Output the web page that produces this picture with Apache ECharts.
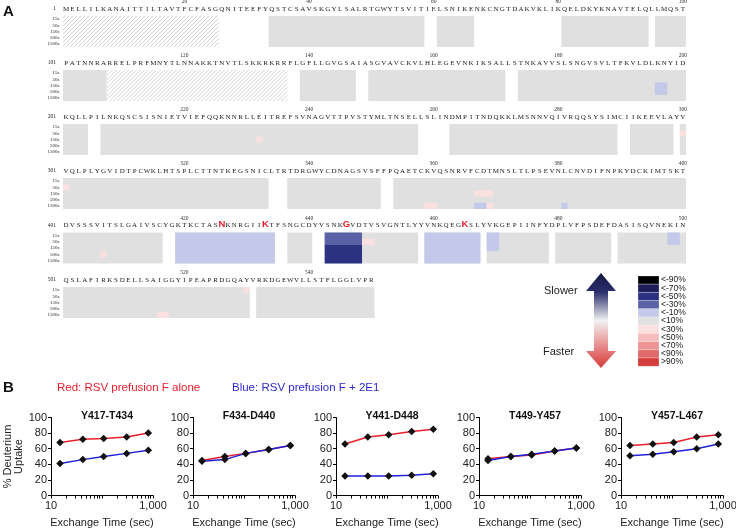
<!DOCTYPE html>
<html><head><meta charset="utf-8">
<script src="https://cdn.jsdelivr.net/npm/echarts@6/dist/echarts.min.js"></script>
<style>html,body{margin:0;padding:0;background:#fff}#c{width:736px;height:528px}</style>
</head><body><div id="c"></div>
<script>
// ---------------- DATA ----------------
const sequence =
  "MELLILKANAITTILTAVTFCFASGQNITEEFYQSTCSAVSKGYLSALRTGWYTSVITIELSNIKENKCNGTDAKVKLIKQELDKYKNAVTELQLLMQST" +
  "PATNNRARRELPRFMNYTLNNAKKTNVTLSKKRKRRFLGFLLGVGSAIASGVAVCKVLHLEGEVNKIKSALLSTNKAVVSLSNGVSVLTFKVLDLKNYID" +
  "KQLLPILNKQSCSISNIETVIEFQQKNNRLLEITREFSVNAGVTTPVSTYMLTNSELLSLINDMPITNDQKKLMSNNVQIVRQQSYSIMCIIKEEVLAYV" +
  "VQLPLYGVIDTPCWKLHTSPLCTTNTKEGSNICLTRTDRGWYCDNAGSVSFFPQAETCKVQSNRVFCDTMNSLTLPSEVNLCNVDIFNPKYDCKIMTSKT" +
  "DVSSSVITSLGAIVSCYGKTKCTASNKNRGIIKTFSNGCDYVSNKGVDTVSVGNTLYYVNKQEGKSLYVKGEPIINFYDPLVFPSDEFDASISQVNEKIN" +
  "QSLAFIRKSDELLSAIGGYIPEAPRDGQAYVRKDGEWVLLSTFLGGLVPR";
const timeLabels = ['15s', '50s', '150s', '500s', '1500s'];
const rowStarts = [1, 101, 201, 301, 401, 501];
const rowLengths = [100, 100, 100, 100, 100, 50];
const redResidues = [426, 433, 446, 465];
// residue ranges [start, end]
const hatchedSegments = [[1, 25], [108, 136]];
const coveredSegments = [
  [34, 58], [61, 66], [81, 94], [96, 100],
  [101, 107], [139, 147], [150, 171], [174, 200],
  [201, 204], [207, 257], [263, 289], [292, 298], [300, 300],
  [301, 333], [337, 351], [354, 400],
  [401, 416], [419, 434], [437, 440], [443, 457], [459, 467], [469, 478], [480, 488], [490, 500],
  [501, 530], [532, 550]
];
// [residueStart, residueEnd, timeStart, timeEnd, levelIndex]
const changedBlocks = [
  [196, 197, 2, 3, 4],
  [232, 232, 2, 2, 6],
  [300, 300, 1, 1, 6],
  [301, 301, 1, 1, 6],
  [367, 369, 2, 2, 6],
  [367, 368, 4, 4, 4],
  [369, 369, 4, 4, 6],
  [359, 360, 4, 4, 6],
  [381, 381, 4, 4, 4],
  [407, 407, 3, 3, 6],
  [419, 434, 0, 4, 4],
  [443, 448, 0, 1, 3],
  [443, 448, 2, 4, 2],
  [449, 450, 1, 1, 6],
  [459, 467, 0, 4, 4],
  [469, 470, 0, 2, 4],
  [498, 499, 0, 1, 4],
  [530, 530, 0, 0, 6],
  [516, 517, 4, 4, 6]
];
const levelLabels = ['<-90%', '<-70%', '<-50%', '<-30%', '<-10%', '<10%', '<30%', '<50%', '<70%', '<90%', '>90%'];
const levelColors = ['#000000', '#1c1d5a', '#2b3282', '#5a62a6', '#c3c9e8', '#e0e0e0', '#fbe0e0', '#f5bcbc', '#ec9494', '#e06a6a', '#d43c3c'];

const peptides = ['Y417-T434', 'F434-D440', 'Y441-D448', 'T449-Y457', 'Y457-L467'];
const exchangeTimes = [15, 42, 108, 305, 810];
const uptakeAlone = [
  [68, 72, 73, 75, 80],
  [45, 50, 54, 59, 64],
  [66, 75, 78, 82, 85],
  [47, 50, 52, 57, 61],
  [64, 66, 68, 75, 78]
];
const uptake2E1 = [
  [41, 46, 50, 54, 58],
  [44, 46, 54, 59, 64],
  [25, 25, 25, 26, 28],
  [45, 50, 53, 57, 61],
  [51, 53, 56, 60, 66]
];
const xTickValues = [10, 20, 30, 40, 50, 60, 70, 80, 90, 100, 200, 300, 400, 500, 600, 700, 800, 900, 1000];
const xLabelValues = [10, 1000];

// ---------------- CHART ----------------
const chart = echarts.init(document.getElementById('c'), null, {renderer: 'canvas', width: 736, height: 528});
const grids = [], xAxes = [], yAxes = [], series = [], titles = [], graphics = [];
const heatLeft = 63, cellW = 6.23, rowH = 31;
const rowTops = [16, 70, 124, 178, 232.5, 287];
const redSet = new Set(redResidues);

function renderCell(params, api) {
  const x0 = api.value(0), x1 = api.value(1), y0 = api.value(2), y1 = api.value(3);
  const kind = api.value(4), lvl = api.value(5);
  const p0 = api.coord([x0, y0]), p1 = api.coord([x1, y1]);
  const sz = api.size([1, 1]);
  const left = Math.min(p0[0], p1[0]) - sz[0] / 2, right = Math.max(p0[0], p1[0]) + sz[0] / 2;
  const top = Math.min(p0[1], p1[1]) - sz[1] / 2, bottom = Math.max(p0[1], p1[1]) + sz[1] / 2;
  if (kind === 1) {
    const children = [];
    const step = 4;
    for (let k = left + top + step / 2; k < right + bottom; k += step) {
      const ys = Math.min(bottom, k - left), xs = k - ys;
      const ye = Math.max(top, k - right), xe = k - ye;
      if (xs <= right && ye <= ys) {
        children.push({type: 'line', shape: {x1: xs, y1: ys, x2: xe, y2: ye},
          style: {stroke: '#c8c8c8', lineWidth: 0.8}});
      }
    }
    return {type: 'group', children};
  }
  return {type: 'rect', shape: {x: left, y: top, width: right - left, height: bottom - top},
    style: {fill: levelColors[lvl]}};
}

rowStarts.forEach((start, r) => {
  const n = rowLengths[r];
  const end = start + n - 1;
  grids.push({left: heatLeft, top: rowTops[r], width: n * cellW, height: rowH, outerBoundsMode: 'none', containLabel: false});
  const cats = [];
  for (let i = 0; i < n; i++) cats.push(String(start + i));
  xAxes.push({
    gridIndex: r, type: 'category', data: cats, position: 'top',
    axisLine: {show: false}, axisTick: {show: false}, splitLine: {show: false},
    axisLabel: {
      interval: 0, margin: 3.5, fontFamily: 'Liberation Serif', fontSize: 7, color: '#1a1a1a',
      formatter: (v) => {
        const res = +v; const ch = sequence[res - 1];
        return redSet.has(res) ? '{r|' + ch + '}' : ch;
      },
      rich: {r: {color: '#e8202a', fontWeight: 'bold', fontSize: 9.5, fontFamily: 'Liberation Sans'}}
    }
  });
  xAxes.push({
    gridIndex: r, type: 'category', data: cats, position: 'top', offset: 8,
    axisLine: {show: false}, axisTick: {show: false}, splitLine: {show: false},
    axisLabel: {
      interval: (idx, v) => (+v) % 20 === 0, margin: 3,
      fontFamily: 'Liberation Serif', fontSize: 5.5, color: '#333'
    }
  });
  yAxes.push({
    gridIndex: r, type: 'category', data: timeLabels, inverse: true,
    axisLine: {show: false}, axisTick: {show: false}, splitLine: {show: false},
    axisLabel: {interval: 0, margin: 3.5, fontFamily: 'Liberation Serif', fontSize: 5, color: '#222'}
  });
  const data = [];
  function addSeg(a, b, t0, t1, kind, lvl) {
    const s = Math.max(a, start), e = Math.min(b, end);
    if (s > e) return;
    data.push([s - start, e - start, t0, t1, kind, lvl]);
  }
  hatchedSegments.forEach(([a, b]) => addSeg(a, b, 0, 4, 1, 5));
  coveredSegments.forEach(([a, b]) => addSeg(a, b, 0, 4, 0, 5));
  changedBlocks.forEach(([a, b, t0, t1, l]) => addSeg(a, b, t0, t1, 2, l));
  series.push({
    type: 'custom', xAxisIndex: 2 * r, yAxisIndex: r, renderItem: renderCell,
    encode: {x: [0, 1], y: [2, 3]}, data, silent: true, animation: false
  });
  graphics.push({
    type: 'text', x: 56, y: rowTops[r] - 7,
    style: {text: String(start), align: 'right', textAlign: 'right', verticalAlign: 'middle', textVerticalAlign: 'middle',
      fontSize: 5.5, fontFamily: 'Liberation Serif', fill: '#222'}
  });
});

const chartLefts = [51, 193, 336, 479, 621];
const chartW = 102, chartTop = 417.5, chartH = 78;
peptides.forEach((name, i) => {
  const gi = 6 + i;
  grids.push({left: chartLefts[i], top: chartTop, width: chartW, height: chartH, outerBoundsMode: 'none', containLabel: false});
  xAxes.push({
    gridIndex: gi, type: 'log', logBase: 10, min: 10, max: 1000,
    name: 'Exchange Time (sec)', nameLocation: 'middle', nameGap: 22,
    nameTextStyle: {fontSize: 11, color: '#222', fontFamily: 'Liberation Sans'},
    axisLine: {show: true, lineStyle: {color: '#000', width: 1}},
    axisTick: {show: true, length: 3, inside: false, customValues: xTickValues, lineStyle: {color: '#000', width: 1}},
    minorTick: {show: false}, splitLine: {show: false},
    axisLabel: {customValues: xLabelValues, fontSize: 11, color: '#222', margin: 5, fontFamily: 'Liberation Sans',
      formatter: (v) => Number(v).toLocaleString('en-US')}
  });
  yAxes.push({
    gridIndex: gi, type: 'value', min: 0, max: 100, interval: 20,
    axisLine: {show: true, lineStyle: {color: '#000', width: 1}},
    axisTick: {show: true, length: 3, lineStyle: {color: '#000'}},
    splitLine: {show: false},
    axisLabel: {fontSize: 11, color: '#222', margin: 4, fontFamily: 'Liberation Sans'},
    name: i === 0 ? '% Deuterium\nUptake' : '', nameLocation: 'middle', nameGap: 25, nameRotate: 90,
    nameTextStyle: {fontSize: 11, lineHeight: 11, color: '#222', fontFamily: 'Liberation Sans', align: 'center'}
  });
  const mk = (vals) => exchangeTimes.map((t, j) => [t, vals[j]]);
  series.push({
    type: 'line', xAxisIndex: 12 + i, yAxisIndex: gi, data: mk(uptakeAlone[i]),
    symbol: 'diamond', symbolSize: 7.5, showSymbol: true,
    lineStyle: {color: '#e8202a', width: 1.5}, itemStyle: {color: '#111'}, animation: false, silent: true
  });
  series.push({
    type: 'line', xAxisIndex: 12 + i, yAxisIndex: gi, data: mk(uptake2E1[i]),
    symbol: 'diamond', symbolSize: 7.5, showSymbol: true,
    lineStyle: {color: '#2020d8', width: 1.5}, itemStyle: {color: '#111'}, animation: false, silent: true
  });
  titles.push({
    text: name, left: chartLefts[i] + chartW / 2, top: 406, textAlign: 'center',
    textStyle: {fontSize: 10.5, fontWeight: 'bold', color: '#111', fontFamily: 'Liberation Sans'}
  });
});

// Panel labels and legend texts
const T = (x, y, text, opts) => Object.assign({type: 'text', x, y,
  style: Object.assign({text, fontFamily: 'Liberation Sans', fill: '#222', verticalAlign: 'middle', textVerticalAlign: 'middle'}, opts || {})});
graphics.push(T(3, 12, 'A', {fontSize: 15, fontWeight: 'bold', fill: '#111'}));
graphics.push(T(3, 388, 'B', {fontSize: 15, fontWeight: 'bold', fill: '#111'}));
graphics.push(T(57, 388, 'Red: RSV prefusion F alone', {fontSize: 11.5, fill: '#e8202a'}));
graphics.push(T(232, 388, 'Blue: RSV prefusion F + 2E1', {fontSize: 11.5, fill: '#2a2ad0'}));
graphics.push(T(544, 291, 'Slower', {fontSize: 11, fill: '#222'}));
graphics.push(T(543, 352, 'Faster', {fontSize: 11, fill: '#222'}));
// double arrow
graphics.push({
  type: 'polygon',
  shape: {points: [[601, 273], [616, 291], [608, 291], [608, 351], [616, 351], [601, 368], [586, 351], [594, 351], [594, 291], [586, 291]]},
  style: {fill: new echarts.graphic.LinearGradient(0, 0, 0, 1, [
    {offset: 0, color: '#16173f'}, {offset: 0.2, color: '#2a2f6e'}, {offset: 0.5, color: '#f2f2f2'},
    {offset: 0.8, color: '#e58080'}, {offset: 1, color: '#d63a3a'}])}
});
// colour key
const keyTop = 276, keyH = 8.2;
levelLabels.forEach((lab, k) => {
  graphics.push({type: 'rect', shape: {x: 638, y: keyTop + k * keyH, width: 21, height: keyH},
    style: {fill: levelColors[k], stroke: 'rgba(255,255,255,0.6)', lineWidth: 0.4}});
  graphics.push(T(661, keyTop + k * keyH + keyH / 2, lab, {fontSize: 8.5, fill: '#222'}));
});

chart.setOption({
  animation: false,
  backgroundColor: '#fff',
  textStyle: {fontFamily: 'Liberation Sans'},
  title: titles,
  grid: grids,
  xAxis: xAxes,
  yAxis: yAxes,
  series: series,
  graphic: {elements: graphics}
});
</script>
</body></html>
